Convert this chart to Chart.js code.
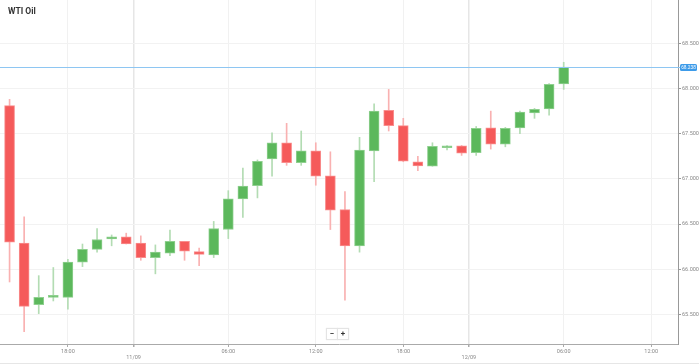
<!DOCTYPE html>
<html>
<head>
<meta charset="utf-8">
<script src="https://cdn.jsdelivr.net/npm/chart.js@4.4.0/dist/chart.umd.min.js"></script>
<style>
body { margin: 0; background: #fff; }
#wrap { position: relative; width: 699px; height: 364px; overflow: hidden; }
#title { position: absolute; left: 8px; top: 6px; font: bold 8.5px Roboto, sans-serif; color: #333; }
#zoom { position: absolute; left: 327px; top: 329px; display: flex; }
#zoom span { display: block; width: 10px; height: 10px; margin-right: 1px; background: #fff; box-shadow: 0 0 1px 1px #e4e4e4;
  font: bold 8px Roboto, sans-serif; color: #333; text-align: center; line-height: 10px; }
#bottom { position: absolute; left: 0; top: 363px; width: 699px; height: 1px; background: #e6e6e6; }
</style>
</head>
<body>
<div id="wrap">
  <canvas id="oilChart" width="699" height="363"></canvas>
  <div id="title">WTI Oil</div>
  <div id="zoom"><span>−</span><span>+</span></div>
  <div id="bottom"></div>
</div>
<script>
// hourly candles, WTI Oil
const opens  = [67.81, 66.29, 65.61, 65.69, 65.69, 66.08, 66.22, 66.335, 66.36, 66.29,
                66.13, 66.18, 66.31, 66.195, 66.16, 66.44, 66.78, 66.925, 67.22, 67.40,
                67.18, 67.31, 67.035, 66.66, 66.26, 67.31, 67.76, 67.59, 67.19, 67.14,
                67.345, 67.365, 67.29, 67.565, 67.385, 67.565, 67.73, 67.775, 68.05]
const highs  = [67.88, 66.58, 65.93, 66.02, 66.11, 66.28, 66.45, 66.38, 66.40, 66.37,
                66.27, 66.435, 66.31, 66.235, 66.53, 66.87, 67.12, 67.21, 67.51, 67.615,
                67.53, 67.40, 67.30, 66.86, 67.46, 67.83, 67.99, 67.67, 67.25, 67.40,
                67.37, 67.37, 67.58, 67.75, 67.57, 67.75, 67.78, 68.055, 68.29]
const lows   = [65.86, 65.31, 65.51, 65.65, 65.56, 66.03, 66.19, 66.26, 66.28, 66.10,
                65.95, 66.15, 66.10, 66.04, 66.13, 66.34, 66.575, 66.79, 67.03, 67.15,
                67.15, 66.93, 66.44, 65.66, 66.19, 66.97, 67.53, 67.19, 67.09, 67.14,
                67.32, 67.26, 67.26, 67.33, 67.355, 67.50, 67.67, 67.705, 67.99]
const closes = [66.30, 65.59, 65.69, 65.70, 66.08, 66.22, 66.33, 66.36, 66.28, 66.13,
                66.19, 66.31, 66.20, 66.165, 66.45, 66.78, 66.92, 67.195, 67.40, 67.18,
                67.31, 67.03, 66.655, 66.26, 67.32, 67.75, 67.59, 67.195, 67.145, 67.36,
                67.365, 67.285, 67.56, 67.385, 67.56, 67.74, 67.77, 68.045, 68.238]

const xTickPos    = [4, 8.5, 15, 21, 27, 31.5, 38, 44]
const xTickLabels = ['18:00', '11/09', '06:00', '12:00', '18:00', '12/09', '06:00', '12:00']
const yTicks = [65.5, 66, 66.5, 67, 67.5, 68, 68.5]

const lastPrice = closes[closes.length - 1]
const up = opens.map((o, i) => closes[i] >= o)

const isDate = i => xTickLabels[i] && xTickLabels[i].includes('/')

// current price line + tag on the right axis
const priceLine = {
    id: 'priceLine',
    afterDraw(chart) {
        const { ctx, chartArea, scales } = chart
        const py = Math.round(scales.y.getPixelForValue(lastPrice))
        const x = chartArea.right + 2
        ctx.save()
        ctx.fillStyle = '#8ec6f2'
        ctx.fillRect(chartArea.left, py, x - chartArea.left, 1)
        ctx.fillStyle = '#3d9be9'
        ctx.beginPath()
        ctx.roundRect(x, py - 3, 17, 7, 1.5)
        ctx.fill()
        ctx.fillStyle = '#fff'
        ctx.font = '4.8px Roboto, sans-serif'
        ctx.textAlign = 'center'
        ctx.textBaseline = 'middle'
        ctx.fillText(lastPrice.toFixed(3), x + 8.5, py + 0.6)
        ctx.restore()
    }
}

const ctx = document.getElementById('oilChart').getContext('2d')
const oilChart = new Chart(ctx, {
    type: 'bar',
    data: {
        datasets: [{
            label: 'wick',
            data: highs.map((h, i) => ({ x: i, y: [lows[i], h] })),
            backgroundColor: up.map(u => u ? '#b3dcb3' : '#f9b1b1'),
            barThickness: 1,
            borderWidth: 0,
            grouped: false,
            order: 2
        }, {
            label: 'body',
            data: opens.map((o, i) => ({ x: i, y: [o, closes[i]] })),
            backgroundColor: up.map(u => u ? '#5cb85c' : '#f55a5a'),
            borderColor: up.map(u => u ? '#8fd08f' : '#f98e8e'),
            borderWidth: 1,
            borderSkipped: false,
            barThickness: 10,
            minBarLength: 2,
            grouped: false,
            order: 1
        }]
    },
    options: {
        responsive: false,
        animation: false,
        devicePixelRatio: 1,
        layout: { padding: 0 },
        plugins: {
            legend: { display: false },
            tooltip: { enabled: false }
        },
        scales: {
            x: {
                type: 'linear',
                offset: false,
                min: -0.656,
                max: 45.84,
                afterBuildTicks: scale => {
                    scale.ticks = xTickPos.map(v => ({ value: v }))
                },
                afterFit: scale => {
                    scale.height = 19
                    scale.paddingLeft = 0
                    scale.paddingRight = 0
                },
                ticks: {
                    autoSkip: false,
                    maxRotation: 0,
                    padding: 1,
                    color: '#888',
                    font: { family: 'Roboto', size: 5.5 },
                    callback: (v, i) => isDate(i) ? ['', xTickLabels[i]] : xTickLabels[i]
                },
                grid: {
                    offset: false,
                    color: c => isDate(c.index) ? '#e6e6e6' : '#f1f1f1',
                    lineWidth: c => isDate(c.index) ? 1.5 : 1,
                    tickLength: 3,
                    tickColor: '#aaa'
                },
                border: { color: '#aaa' }
            },
            y: {
                position: 'right',
                min: 65.174,
                max: 68.979,
                afterBuildTicks: scale => {
                    scale.ticks = yTicks.map(v => ({ value: v }))
                },
                afterFit: scale => {
                    scale.width = 21
                    scale.paddingTop = 0
                    scale.paddingBottom = 0
                },
                ticks: {
                    padding: 1,
                    color: '#888',
                    font: { family: 'Roboto', size: 5.5 },
                    callback: v => v.toFixed(3)
                },
                grid: {
                    color: '#f2f2f2',
                    tickLength: 3,
                    tickColor: '#999'
                },
                border: { color: '#999' }
            }
        }
    },
    plugins: [priceLine]
})
</script>
</body>
</html>
